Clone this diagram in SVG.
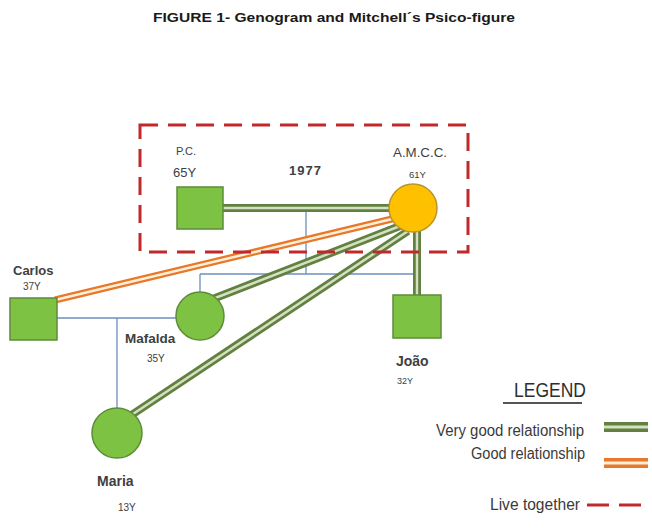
<svg xmlns="http://www.w3.org/2000/svg" width="652" height="531" viewBox="0 0 652 531">
<style>
  text { font-family: "Liberation Sans", Arial, sans-serif; fill: #404040; }
  .title { font-size: 13.5px; font-weight: bold; fill: #1a1a1a; }
  .lbl { font-weight: bold; }
  .leg { fill: #3a3a3a; }
  .sq { fill: #7DC243; stroke: #5E8C3A; stroke-width: 1.5; }
  .gc { fill: #7DC243; stroke: #5E8C3A; stroke-width: 1.5; }
  .yc { fill: #FFC000; stroke: #B8962E; stroke-width: 1.5; }
  .vgo { stroke: #62803F; stroke-width: 8; fill: none; }
  .vgi { stroke: #D3E0C2; stroke-width: 2.5; fill: none; }
  .go { stroke: #E8782A; stroke-width: 7; fill: none; }
  .gi { stroke: #FDEFD9; stroke-width: 2.5; fill: none; }
  .blue { stroke: #6C8EBF; stroke-width: 1.3; fill: none; }
  .red { stroke: #C0282C; stroke-width: 3; fill: none; stroke-dasharray: 18 10; }
</style>

<text class="title" x="153" y="22" textLength="362" lengthAdjust="spacingAndGlyphs">FIGURE 1- Genogram  and Mitchell´s Psico-figure</text>

<g id="connectors">
  <!-- thin blue lines -->
  <line class="blue" x1="306" y1="208" x2="306" y2="274"/>
  <line class="blue" x1="200" y1="274" x2="417" y2="274"/>
  <line class="blue" x1="200" y1="274" x2="200" y2="292"/>
  <line class="blue" x1="57" y1="318" x2="176" y2="318"/>
  <line class="blue" x1="117" y1="318" x2="117" y2="409"/>
  <!-- very good relationship lines -->
  <line class="vgo" x1="223" y1="208" x2="392" y2="208"/>
  <line class="vgi" x1="223" y1="208" x2="392" y2="208"/>
  <line class="vgo" x1="417" y1="226" x2="417" y2="296"/>
  <line class="vgi" x1="417" y1="226" x2="417" y2="296"/>
  <line class="vgo" x1="205" y1="302" x2="400" y2="226"/>
  <line class="vgi" x1="205" y1="302" x2="400" y2="226"/>
  <line class="vgo" x1="130" y1="416" x2="408" y2="231"/>
  <line class="vgi" x1="130" y1="416" x2="408" y2="231"/>
  <!-- good relationship -->
  <line class="go" x1="55" y1="300" x2="392" y2="219"/>
  <line class="gi" x1="55" y1="300" x2="392" y2="219"/>
  <!-- live together -->
  <rect class="red" x="140" y="125" width="328" height="127"/>
</g>

<g id="pc">
  <rect class="sq" x="177" y="187" width="46" height="42"/>
  <text x="176" y="155" font-size="11">P.C.</text>
  <text x="173" y="177" font-size="13">65Y</text>
</g>
<g id="marriage-year">
  <text x="289" y="175" font-size="13" font-weight="bold" textLength="32">1977</text>
</g>
<g id="amcc">
  <circle class="yc" cx="413" cy="208" r="24"/>
  <text x="393" y="157" font-size="12.5" textLength="54" lengthAdjust="spacingAndGlyphs">A.M.C.C.</text>
  <text x="409" y="178" font-size="9.5">61Y</text>
</g>
<g id="carlos">
  <rect class="sq" x="10" y="298" width="47" height="42"/>
  <text class="lbl" x="13" y="275" font-size="13">Carlos</text>
  <text x="23" y="290" font-size="10">37Y</text>
</g>
<g id="mafalda">
  <circle class="gc" cx="200" cy="316" r="24"/>
  <text class="lbl" x="125" y="343" font-size="13.5">Mafalda</text>
  <text x="147" y="362" font-size="10">35Y</text>
</g>
<g id="joao">
  <rect class="sq" x="393" y="295" width="48" height="43"/>
  <text class="lbl" x="396" y="366" font-size="14">João</text>
  <text x="397" y="384" font-size="9">32Y</text>
</g>
<g id="maria">
  <circle class="gc" cx="117" cy="433" r="25"/>
  <text class="lbl" x="97" y="486" font-size="14">Maria</text>
  <text x="118" y="511" font-size="10">13Y</text>
</g>

<g id="legend">
  <text class="leg" x="514" y="397" font-size="20" textLength="72" lengthAdjust="spacingAndGlyphs" style="fill:#2e2e2e">LEGEND</text>
  <line x1="503" y1="403" x2="582" y2="403" stroke="#555" stroke-width="2"/>
  <text class="leg" x="436" y="436" font-size="16" textLength="148" lengthAdjust="spacingAndGlyphs">Very good relationship</text>
  <line class="vgo" x1="604" y1="427" x2="648" y2="427" style="stroke-width:10"/>
  <line class="vgi" x1="604" y1="427" x2="648" y2="427" style="stroke-width:3"/>
  <text class="leg" x="471" y="459" font-size="16" textLength="114" lengthAdjust="spacingAndGlyphs">Good relationship</text>
  <line class="go" x1="604" y1="463" x2="648" y2="463" style="stroke-width:10"/>
  <line class="gi" x1="604" y1="463" x2="648" y2="463" style="stroke-width:3"/>
  <text class="leg" x="490" y="510" font-size="16" textLength="90" lengthAdjust="spacingAndGlyphs">Live together</text>
  <line x1="587" y1="505" x2="609" y2="505" stroke="#C0282C" stroke-width="3"/>
  <line x1="619" y1="505" x2="641" y2="505" stroke="#C0282C" stroke-width="3"/>
</g>
</svg>
